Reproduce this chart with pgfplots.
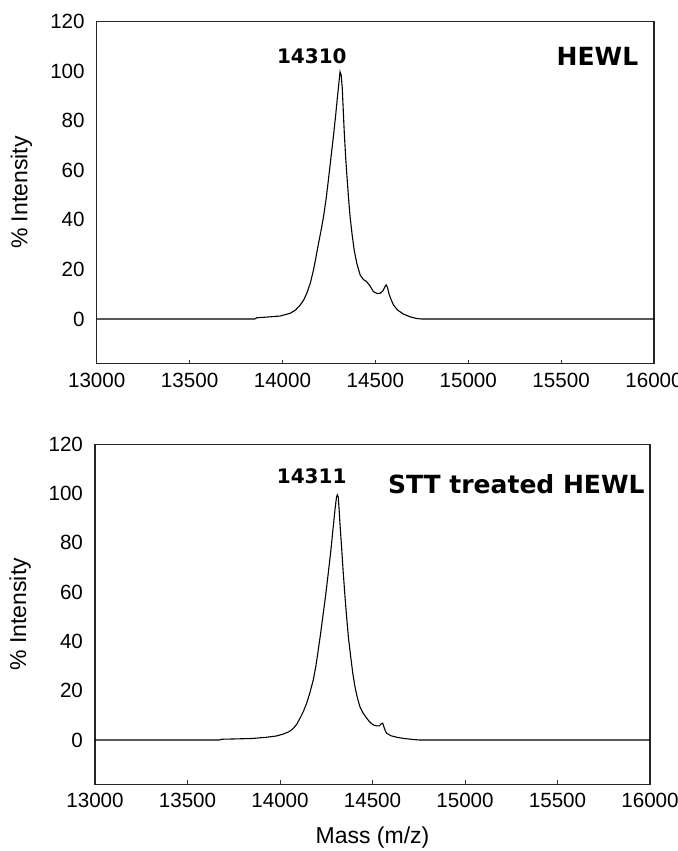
\documentclass[border=0pt]{standalone}
\usepackage{pgfplots}
\pgfplotsset{compat=1.18}
\usepackage{fontspec}
\setmainfont{Liberation Sans}
\newfontfamily\dvs{DejaVu Sans}
\begin{document}
\begin{tikzpicture}
\useasboundingbox (0,0) rectangle (339pt,-425.5pt);
\pgfplotsset{
  msaxis/.style={
    scale only axis,
    anchor=north west,
    xmin=13000, xmax=16000,
    ymin=-18, ymax=120,
    xtick={13000,13500,...,16000},
    ytick={0,20,...,120},
    scaled ticks=false,
    /pgf/number format/assume math mode=true,
    /pgf/number format/1000 sep={},
    /pgf/number format/fixed,
    tick label style={font=\fontsize{10.3}{12}\selectfont},
    yticklabel style={xshift=-2.5pt},
    xticklabel style={yshift=-1pt},
    tick align=inside,
    xtick pos=bottom,
    ytick style={draw=none},
    xtick style={black!80, line width=0.5pt},
    major tick length=2pt,
    axis line style={line width=0.6pt, black!85},
    ylabel={\% Intensity},
    ylabel style={font=\fontsize{11.5}{13}\selectfont, at={(axis description cs:-0.135,0.5)}, anchor=center},
    clip mode=individual,
  }
}
\begin{axis}[msaxis, at={(48.35pt,-10.85pt)}, width=278.65pt, height=170.95pt]
\addplot[black, line width=0.55pt] coordinates {
(13000,0) (13850,0) (13862,0.5) (13920,0.8) (13987,1.2) (14041,2.3) (14070,3.6)
(14095,5.6) (14115,7.8) (14131,10.4) (14150,14.5) (14167,19.8) (14180,24.8)
(14194,30.5) (14208,35.8) (14221,41.3) (14235,48.5) (14247,56) (14260,64.5)
(14274,73.6) (14286,82) (14296,89.7) (14304,95.5) (14310,99.8) (14316,98.5)
(14322,93) (14332,76.3) (14340,65.5) (14346,58.8) (14355,49.5) (14364,41.3)
(14375,34) (14386,27.9) (14400,22.5) (14418,17.8) (14435,16) (14453,15.1)
(14470,13.5) (14490,11.0) (14510,10.3) (14526,10.4) (14540,11.3) (14550,12.8)
(14558,13.8) (14565,12.8) (14575,9.8) (14585,7.8) (14598,5.6) (14620,3.6)
(14651,2.0) (14690,0.8) (14723,0.2) (14750,0) (16000,0)
};
\node[font=\dvs\bfseries\fontsize{10}{12}\selectfont] at (axis cs:14158,105.9) {14310};
\node[font=\dvs\bfseries\fontsize{12.5}{14}\selectfont, anchor=east, inner sep=0pt] at (axis cs:15917,106) {HEWL};
\end{axis}
\begin{axis}[msaxis, at={(47.5pt,-222.15pt)}, width=277.5pt, height=170pt,
  xlabel={Mass (m/z)},
  xlabel style={font=\fontsize{11.5}{13}\selectfont, at={(axis description cs:0.5,-0.158)}, anchor=center}]
\addplot[black, line width=0.55pt] coordinates {
(13000,0) (13670,0) (13690,0.3) (13750,0.4) (13850,0.6) (13928,1.1) (13980,1.6)
(14018,2.4) (14050,3.4) (14072,4.7) (14090,6.3) (14108,8.8) (14126,11.5)
(14144,14.9) (14162,19.3) (14180,24.4) (14194,30) (14207,36.6) (14220,43.5)
(14234,51.5) (14248,59.5) (14261,67.8) (14275,77) (14288,86.7) (14298,94)
(14306,98.9) (14311,99.5) (14315,98.5) (14320,93) (14324,88) (14333,78)
(14342,67.8) (14351,58.5) (14360,50.1) (14370,41.5) (14382,33.9) (14393,27.3)
(14405,21.7) (14418,17.2) (14432,13.5) (14450,10.8) (14469,8.8) (14485,7.3)
(14504,6.1) (14525,5.7) (14537,5.7) (14548,6.6) (14555,6.8) (14562,5.2)
(14570,3.6) (14577,2.7) (14600,1.7) (14631,1.1) (14670,0.6) (14720,0.2)
(14750,0) (16000,0)
};
\node[font=\dvs\bfseries\fontsize{10}{12}\selectfont] at (axis cs:14171,107) {14311};
\node[font=\dvs\bfseries\fontsize{12.5}{14}\selectfont, anchor=east, inner sep=0pt] at (axis cs:15973,104) {STT treated HEWL};
\end{axis}
\end{tikzpicture}
\end{document}
